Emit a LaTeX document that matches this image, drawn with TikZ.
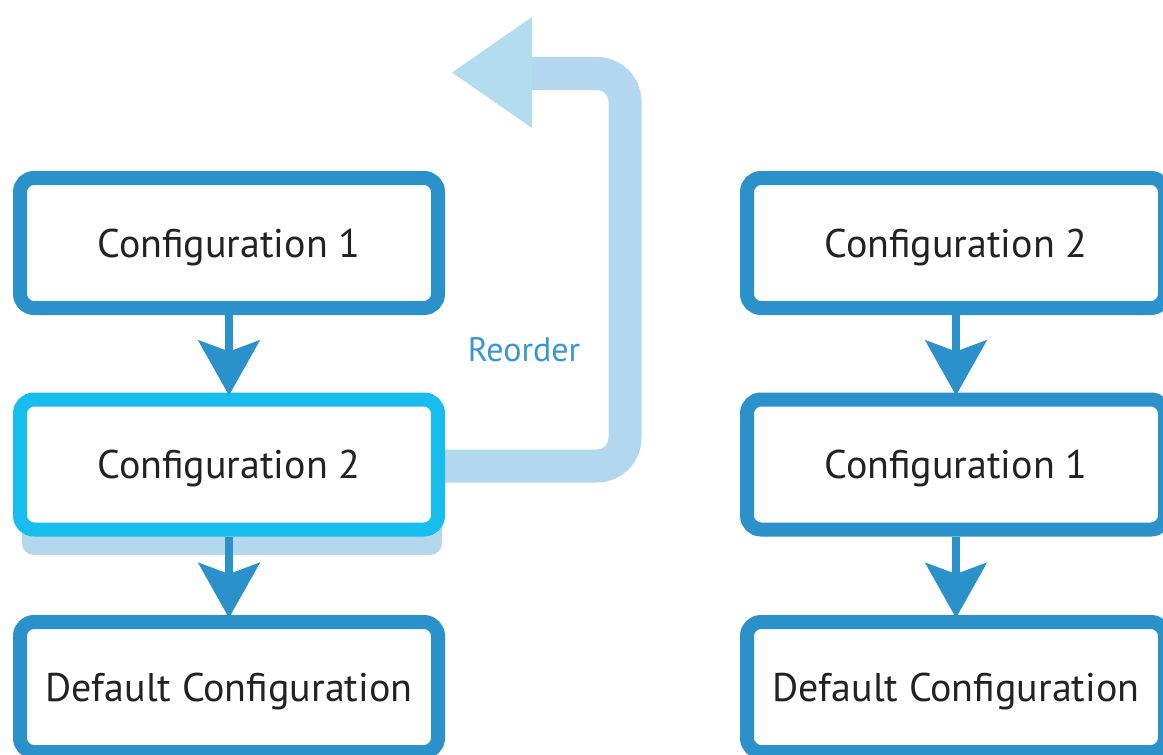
\documentclass[tikz,border=0pt]{standalone}
\usepackage{fontspec}
\setmainfont{PT Sans}
\usetikzlibrary{arrows.meta}
\definecolor{boxblue}{HTML}{2A91CB}
\definecolor{hiblue}{HTML}{17BDEC}
\definecolor{paleblue}{HTML}{B3D7EF}
\definecolor{tipblue}{HTML}{B3DCEE}
\definecolor{labelblue}{HTML}{3A96D3}
\definecolor{textdark}{HTML}{222222}
\tikzset{
  cfgbox/.style={draw=boxblue, line width=14pt, rounded corners=14pt, fill=white,
    minimum width=418pt, minimum height=130pt, inner sep=0pt, text=textdark,
    text height=38pt, text depth=10pt,
    font=\fontsize{40}{48}\selectfont},
  hibox/.style={cfgbox, draw=hiblue},
  flow/.style={draw=boxblue, line width=8pt,
    -{Stealth[length=55pt, width=61pt, inset=11pt]}, shorten >=-3pt},
  reorderline/.style={draw=paleblue, line width=33pt, rounded corners=28pt},
}
\begin{document}
\begin{tikzpicture}[x=1pt, y=-1pt]
\useasboundingbox (0,0) rectangle (1163,755);
% shadow under highlighted box
\fill[paleblue, rounded corners=12pt] (22,430) rectangle (442,555);
% reorder path
\coordinate (rtip) at (452,72.5);
\coordinate (rbend1) at (625,466);
\coordinate (rbend2) at (625,73.5);
\coordinate (rend) at (520,73.5);
\draw[reorderline] (229,466) -- (rbend1) -- (rbend2) -- (rend);
\fill[tipblue] (rtip) -- (532,17) -- (532,128) -- cycle;
\node[text=labelblue, font=\fontsize{34}{40}\selectfont] (reorder) at (524,350) {Reorder};
% left column
\node[cfgbox] (c1) at (229,243) {Configuration 1};
\node[hibox] (c2) at (229,464.5) {Configuration 2};
\node[cfgbox] (d1) at (229,687) {Default Configuration};
% right column
\node[cfgbox] (r2) at (956,243) {Configuration 2};
\node[cfgbox] (r1) at (956,464.5) {Configuration 1};
\node[cfgbox] (rd) at (956,687) {Default Configuration};
% connectors
\draw[flow] (c1) -- (c2);
\draw[flow] (c2) -- (d1);
\draw[flow] (r2) -- (r1);
\draw[flow] (r1) -- (rd);
\end{tikzpicture}
\end{document}
